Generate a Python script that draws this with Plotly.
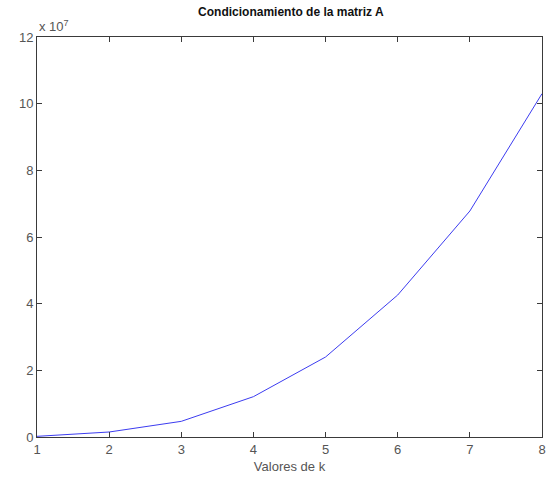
import plotly.graph_objects as go

# Condition number of matrix A for each k
k_values = [1, 2, 3, 4, 5, 6, 7, 8]
cond_values = [0.02e7, 0.15e7, 0.47e7, 1.21e7, 2.40e7, 4.26e7, 6.78e7, 10.3e7]

y_tick_vals = [0, 2e7, 4e7, 6e7, 8e7, 10e7, 12e7]
y_tick_text = ["0", "2", "4", "6", "8", "10", "12"]
x_tick_vals = [1, 2, 3, 4, 5, 6, 7, 8]

axis_color = "#3a3a3a"
label_color = "#555555"

fig = go.Figure()
fig.add_trace(go.Scatter(
    x=k_values, y=cond_values, mode="lines",
    line=dict(color="#3c3cf0", width=1),
    showlegend=False, hoverinfo="skip",
))

fig.update_layout(
    width=553, height=481,
    margin=dict(l=37, r=7, t=37, b=44),
    paper_bgcolor="white", plot_bgcolor="white",
    font=dict(family="Liberation Sans, Arial, sans-serif", size=13, color=label_color),
    title=dict(
        text="<b>Condicionamiento de la matriz A</b>",
        x=0.526, xanchor="center", y=0.975, yanchor="middle",
        font=dict(size=12, color="#111111"),
    ),
    xaxis=dict(
        range=[1, 8], tickvals=x_tick_vals,
        showline=True, linecolor=axis_color, linewidth=1, mirror="ticks",
        ticks="inside", ticklen=5, tickcolor=axis_color,
        showgrid=False, zeroline=False, tickfont=dict(size=13),
        title=dict(text="Valores de k", standoff=6, font=dict(size=13, color=label_color)),
    ),
    yaxis=dict(
        range=[0, 12e7], tickvals=y_tick_vals, ticktext=y_tick_text,
        showline=True, linecolor=axis_color, linewidth=1, mirror="ticks",
        ticks="inside", ticklen=5, tickcolor=axis_color,
        showgrid=False, zeroline=False, tickfont=dict(size=13),
    ),
)

# Exponent multiplier for the y axis
fig.add_annotation(
    text="x 10<sup>7</sup>", xref="paper", yref="paper",
    x=0.0, y=1.0, xanchor="left", yanchor="bottom", yshift=1,
    showarrow=False, font=dict(size=13, color=label_color),
)

fig.write_html("out.html")
